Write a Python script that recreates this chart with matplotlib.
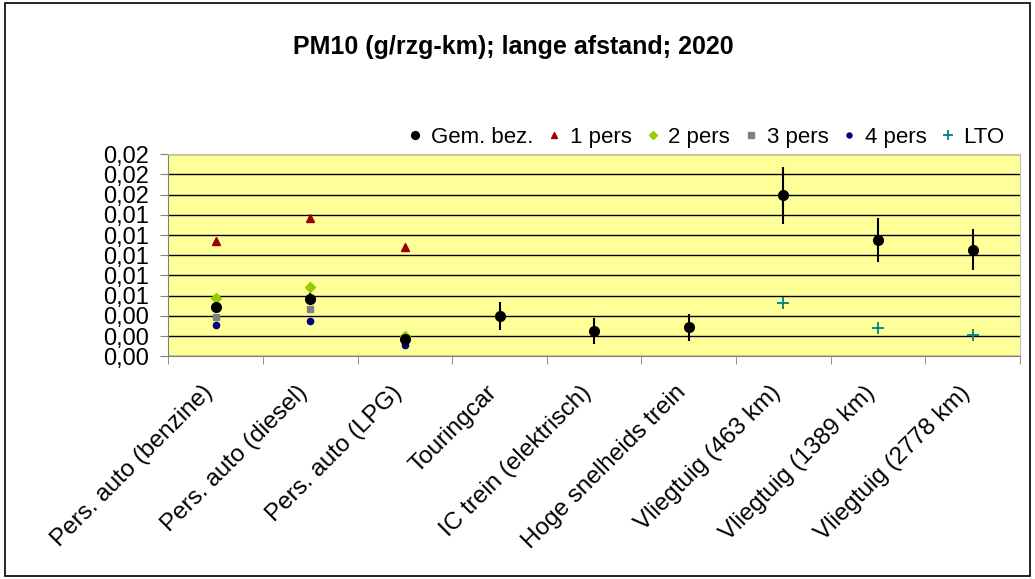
import matplotlib.pyplot as plt
from matplotlib.ticker import FuncFormatter, FixedLocator
from matplotlib.transforms import ScaledTranslation
import numpy as np

plt.rcParams['font.family'] = ['Liberation Sans', 'DejaVu Sans']

# ============================================================
# DATA
# ============================================================

categories = ["Pers. auto (benzine)", "Pers. auto (diesel)", "Pers. auto (LPG)",
              "Touringcar", "IC trein (elektrisch)", "Hoge snelheids trein",
              "Vliegtuig (463 km)", "Vliegtuig (1389 km)", "Vliegtuig (2778 km)"]

gem_bez = [0.00489, 0.00565, 0.00173, 0.00403, 0.00255, 0.00288, 0.01592, 0.01151, 0.01055]
gem_err = [0.0003, 0.0006, 0.0002, 0.0014, 0.0013, 0.00135, 0.0028, 0.00216, 0.0020]

pers1 = [0.01144, 0.01371, 0.01078]
pers2 = [0.00578, 0.0069, 0.00202]
pers3 = [0.0039, 0.00469, 0.00156]
pers4 = [0.00308, 0.00354, 0.00114]

lto_idx = [6, 7, 8]
lto = [0.00525, 0.00278, 0.00212]

yticks = np.arange(0, 0.0201, 0.002)

# ============================================================
# PLOT
# ============================================================

fig = plt.figure(figsize=(10.35, 5.79), dpi=100)
ax = fig.add_axes([0.1626, 0.3843, 0.8229, 0.3497])
ax.set_facecolor("#FFFF99")

x = np.arange(len(categories))
car_x = x[:3]

ax.errorbar(x, gem_bez, yerr=gem_err, fmt="none", ecolor="black",
            elinewidth=1.5, capsize=0, zorder=5)
h0, = ax.plot(x, gem_bez, "o", color="black", ms=7, label="Gem. bez.", zorder=6)
h1, = ax.plot(car_x, pers1, "^", color="#990000", ms=6, label="1 pers", zorder=4)
h2, = ax.plot(car_x, pers2, "D", color="#99CC00", ms=5, label="2 pers", zorder=4)
h3, = ax.plot(car_x, pers3, "s", color="#808080", ms=5, label="3 pers", zorder=4)
h4, = ax.plot(car_x, pers4, "o", color="#000080", ms=4.5, label="4 pers", zorder=4)
h5, = ax.plot(x[lto_idx], lto, "+", color="#008080", ms=9, mew=1.3, label="LTO", zorder=4)

ax.set_xlim(-0.5, len(categories) - 0.5)
ax.set_ylim(0, 0.02)
ax.set_yticks(yticks)
ax.yaxis.set_major_formatter(FuncFormatter(lambda v, p: f"{v:.2f}".replace(".", ",")))
ax.grid(axis="y", color="black", lw=1)
ax.set_axisbelow(True)

ax.set_xticks(x)
ax.set_xticklabels(categories, rotation=45, ha="right", rotation_mode="anchor", fontsize=17.5)
ax.tick_params(axis="x", which="major", length=0, pad=18)
shift = ScaledTranslation(-14 / 100, 0, fig.dpi_scale_trans)
for lab in ax.get_xticklabels():
    lab.set_transform(lab.get_transform() + shift)
ax.xaxis.set_minor_locator(FixedLocator(np.arange(-0.5, len(categories), 1)))
ax.tick_params(axis="x", which="minor", length=6, color="#808080")
ax.tick_params(axis="y", labelsize=17, length=6, color="#808080", pad=8)

for s in ["left", "bottom"]:
    ax.spines[s].set_color("#808080")
for s in ["top", "right"]:
    ax.spines[s].set_color("#C0C0C0")

fig.text(0.496, 0.919, "PM10 (g/rzg-km); lange afstand; 2020", ha="center", va="center",
         fontsize=18, fontweight="bold")

fig.legend(handles=[h0, h1, h2, h3, h4, h5], loc="center right",
           bbox_to_anchor=(0.99, 0.763), ncol=6, frameon=False,
           fontsize=16, handletextpad=0.2, columnspacing=0.45, handlelength=1.0,
           markerscale=0.8)

fig.patches.append(plt.Rectangle((0.005, 0.005), 0.99, 0.99, transform=fig.transFigure,
                                 fill=False, edgecolor="black", lw=1.2))

fig.savefig("out.png", dpi=100)
